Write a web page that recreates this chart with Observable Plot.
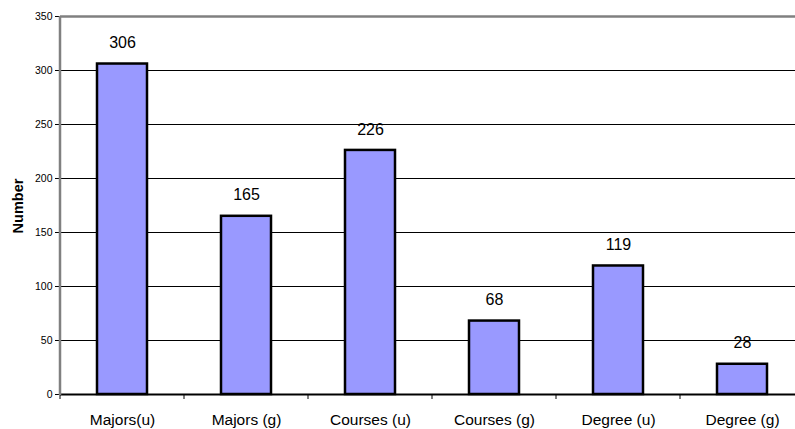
<!DOCTYPE html>
<html><head><meta charset="utf-8">
<script src="https://cdn.jsdelivr.net/npm/d3@7"></script>
<script src="https://cdn.jsdelivr.net/npm/@observablehq/plot@0.6"></script>
<style>body{margin:0;background:#fff;font-family:"Liberation Sans",Arial,sans-serif;overflow:hidden}</style>
</head><body><div id="chart"></div>
<script>
const categories = ["Majors(u)", "Majors (g)", "Courses (u)", "Courses (g)", "Degree (u)", "Degree (g)"];
const values = [306, 165, 226, 68, 119, 28];
const yTicks = [0, 50, 100, 150, 200, 250, 300, 350];
const yLabel = "Number";

const data = categories.map((c, i) => ({category: c, value: values[i]}));
const FONT = "'Liberation Sans', Arial, sans-serif";

const chart = Plot.plot({
  width: 795,
  height: 429,
  marginLeft: 60,
  marginTop: 16,
  marginBottom: 35,
  marginRight: 0,
  style: {fontFamily: FONT, background: "#fff", overflow: "visible"},
  x: {domain: categories, range: [60, 804], paddingInner: 0.6, paddingOuter: 0.3, label: null},
  y: {domain: [0, 350], label: null},
  marks: [
    Plot.ruleY(yTicks.filter(d => d > 0 && d < 350), {stroke: "#000", strokeWidth: 1}),
    Plot.ruleY([350], {stroke: "#808080", strokeWidth: 2.5}),
    Plot.barY(data, {x: "category", y: "value", fill: "#9999FF", stroke: "#000", strokeWidth: 2.5}),
    Plot.ruleY([0], {stroke: "#000", strokeWidth: 2}),
    Plot.text(data, {x: "category", y: "value", text: d => String(d.value), dy: -21, fontSize: 16, fill: "#000"}),
    Plot.axisY({ticks: yTicks, tickSize: 5, tickPadding: 3, fontSize: 10.5, label: null, stroke: "#000"}),
    Plot.axisX({tickSize: 0, tickPadding: 19, fontSize: 15.5, label: null})
  ]
});
const svg = d3.select(chart);
const xs = chart.scale("x");
const half = xs.step / 2;
const bounds = categories.map(c => xs.apply(c) + xs.bandwidth / 2 - half);
bounds.push(xs.apply(categories[categories.length - 1]) + xs.bandwidth / 2 + half);
const y0 = chart.scale("y").apply(0);
svg.append("g").selectAll("line").data(bounds).join("line")
  .attr("x1", d => d).attr("x2", d => d).attr("y1", y0).attr("y2", y0 + 5)
  .attr("stroke", "#000").attr("stroke-width", 1);
svg.append("line").attr("x1", 60).attr("x2", 60).attr("y1", chart.scale("y").apply(350)).attr("y2", y0 + 1)
  .attr("stroke", "#808080").attr("stroke-width", 2.5);
svg.append("text").attr("transform", "translate(23,206) rotate(-90)")
  .attr("text-anchor", "middle").attr("font-weight", "bold").attr("font-size", 14.5)
  .attr("font-family", FONT).text(yLabel);
document.getElementById("chart").appendChild(chart);
</script></body></html>
